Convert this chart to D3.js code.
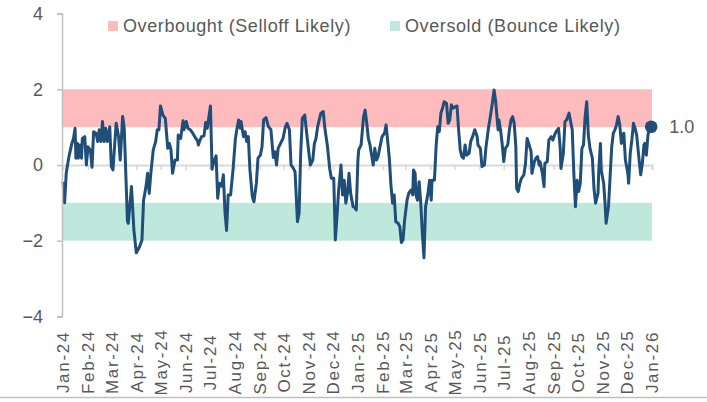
<!DOCTYPE html>
<html>
<head>
<meta charset="utf-8">
<title>Overbought / Oversold score</title>
<script src="https://d3js.org/d3.v7.min.js"></script>
<style>
    body { margin: 0; background: #fff; }
    text { font-family: "Liberation Sans", Arial, sans-serif; fill: #595959; }
</style>
</head>
<body>
<svg id="chart" width="707" height="402"></svg>
<script>
var dates = [
    "2024-01-01","2024-01-03","2024-01-05","2024-01-08","2024-01-12","2024-01-14","2024-01-16","2024-01-17","2024-01-19","2024-01-20",
    "2024-01-22","2024-01-24","2024-01-25","2024-01-28","2024-01-30","2024-02-01","2024-02-04","2024-02-06","2024-02-08","2024-02-11",
    "2024-02-13","2024-02-15","2024-02-17","2024-02-19","2024-02-21","2024-02-23","2024-02-25","2024-02-28","2024-03-01","2024-03-03",
    "2024-03-07","2024-03-10","2024-03-12","2024-03-15","2024-03-17","2024-03-21","2024-03-22","2024-03-26","2024-03-29","2024-04-01",
    "2024-04-05","2024-04-08","2024-04-10","2024-04-13","2024-04-15","2024-04-17","2024-04-19","2024-04-22","2024-04-25","2024-04-27",
    "2024-04-29","2024-05-01","2024-05-04","2024-05-07","2024-05-10","2024-05-12","2024-05-14","2024-05-16","2024-05-19","2024-05-22",
    "2024-05-23","2024-05-26","2024-05-29","2024-05-30","2024-06-02","2024-06-04","2024-06-07","2024-06-10","2024-06-13","2024-06-16",
    "2024-06-17","2024-06-19","2024-06-21","2024-06-24","2024-06-26","2024-06-28","2024-07-01","2024-07-02","2024-07-04","2024-07-06",
    "2024-07-09","2024-07-11","2024-07-13","2024-07-16","2024-07-18","2024-07-20","2024-07-22","2024-07-24","2024-07-27","2024-07-30",
    "2024-08-02","2024-08-04","2024-08-06","2024-08-08","2024-08-09","2024-08-12","2024-08-14","2024-08-16","2024-08-18","2024-08-20",
    "2024-08-23","2024-08-25","2024-08-28","2024-08-30","2024-09-02","2024-09-04","2024-09-06","2024-09-09","2024-09-12","2024-09-15",
    "2024-09-18","2024-09-20","2024-09-22","2024-09-24","2024-09-27","2024-09-30","2024-10-03","2024-10-05","2024-10-08","2024-10-10",
    "2024-10-13","2024-10-15","2024-10-18","2024-10-20","2024-10-22","2024-10-24","2024-10-27","2024-10-29","2024-11-01","2024-11-03",
    "2024-11-06","2024-11-08","2024-11-10","2024-11-12","2024-11-13","2024-11-16","2024-11-19","2024-11-21","2024-11-24","2024-11-27",
    "2024-11-29","2024-12-02","2024-12-04","2024-12-06","2024-12-08","2024-12-11","2024-12-13","2024-12-15","2024-12-17","2024-12-19",
    "2024-12-21","2024-12-23","2024-12-26","2024-12-28","2024-12-30",
    "2025-01-01","2025-01-02","2025-01-05","2025-01-08","2025-01-10","2025-01-12","2025-01-14","2025-01-16","2025-01-18","2025-01-20",
    "2025-01-22","2025-01-24","2025-01-26","2025-01-28","2025-01-31","2025-02-03","2025-02-05","2025-02-07","2025-02-09","2025-02-11",
    "2025-02-13","2025-02-15","2025-02-17","2025-02-20","2025-02-22","2025-02-24","2025-02-26","2025-02-28","2025-03-03","2025-03-05",
    "2025-03-08","2025-03-10","2025-03-11","2025-03-13","2025-03-14","2025-03-16","2025-03-18","2025-03-20","2025-03-22","2025-03-24",
    "2025-03-26","2025-03-29","2025-03-31","2025-04-02","2025-04-03","2025-04-06","2025-04-08","2025-04-10","2025-04-12","2025-04-14",
    "2025-04-16","2025-04-18","2025-04-21","2025-04-23","2025-04-25","2025-04-27","2025-04-29","2025-05-02","2025-05-04","2025-05-06",
    "2025-05-08","2025-05-10","2025-05-12","2025-05-14","2025-05-16","2025-05-19","2025-05-21","2025-05-24","2025-05-26","2025-05-29",
    "2025-05-30","2025-06-02","2025-06-04","2025-06-07","2025-06-09","2025-06-12","2025-06-14","2025-06-17","2025-06-19","2025-06-21",
    "2025-06-24","2025-06-25","2025-06-27","2025-06-29","2025-07-01","2025-07-03","2025-07-06","2025-07-08","2025-07-10","2025-07-12",
    "2025-07-14","2025-07-16","2025-07-17","2025-07-19","2025-07-21","2025-07-23","2025-07-26","2025-07-28","2025-07-30","2025-08-01",
    "2025-08-04","2025-08-05","2025-08-08","2025-08-10","2025-08-12","2025-08-14","2025-08-15","2025-08-18","2025-08-20","2025-08-21",
    "2025-08-24","2025-08-26","2025-08-29","2025-08-31","2025-09-02","2025-09-04","2025-09-07","2025-09-09","2025-09-10","2025-09-13",
    "2025-09-15","2025-09-17","2025-09-20","2025-09-22","2025-09-24","2025-09-26","2025-09-28","2025-09-30","2025-10-02","2025-10-04",
    "2025-10-06","2025-10-08","2025-10-10","2025-10-12","2025-10-14","2025-10-16","2025-10-19","2025-10-21","2025-10-23","2025-10-26",
    "2025-10-27","2025-10-29","2025-10-30","2025-11-02","2025-11-04","2025-11-05","2025-11-08","2025-11-10","2025-11-12","2025-11-14",
    "2025-11-16","2025-11-18","2025-11-20","2025-11-22","2025-11-24","2025-11-27","2025-11-29","2025-12-02","2025-12-03","2025-12-05",
    "2025-12-07","2025-12-09","2025-12-11","2025-12-13","2025-12-16","2025-12-18","2025-12-20","2025-12-22","2025-12-23","2025-12-25",
    "2025-12-27","2025-12-29","2025-12-31"
];
var scores = [
    -0.44,-1.00,-0.22,0.18,0.57,0.70,0.97,0.18,0.57,0.18,
    0.53,0.18,0.70,0.75,0.00,0.48,0.40,-0.06,0.88,0.84,
    0.62,0.93,0.62,1.15,0.62,0.97,0.62,1.01,-0.04,-0.13,
    1.10,0.75,0.13,1.28,0.97,-1.49,-1.54,-0.57,-1.72,-2.32,
    -2.16,-1.98,-0.93,-0.57,-0.22,-0.75,-0.22,0.40,0.62,0.93,
    0.93,1.56,1.32,1.23,0.44,0.57,0.40,-0.22,0.13,0.13,
    0.79,0.70,1.17,0.93,1.15,0.97,0.93,0.84,0.73,0.64,
    0.53,0.66,0.75,0.77,1.12,0.97,1.41,1.56,-0.11,0.09,
    0.24,-0.88,-0.48,-0.56,-0.26,-1.23,-1.73,-0.79,-0.79,-0.13,
    0.70,0.97,1.19,0.97,1.15,0.75,0.88,0.62,0.75,-0.13,
    -0.84,-0.97,-0.48,0.18,0.26,0.48,1.19,1.25,1.01,0.94,
    0.20,0.35,0.00,0.44,0.57,0.70,1.01,1.10,0.93,0.00,
    -0.09,-0.18,-1.50,-1.28,0.31,1.23,1.32,0.93,0.35,0.00,
    0.13,0.57,0.70,1.01,1.10,1.37,1.41,0.97,0.53,-0.09,
    -0.35,-0.35,-1.98,-1.37,-0.70,0.00,-0.79,-0.40,-1.01,-0.75,
    -0.22,-0.75,-1.10,-1.12,-1.19,
    0.13,0.40,0.53,1.28,1.45,1.10,0.70,0.53,0.26,0.00,
    0.44,0.13,0.22,0.44,0.75,0.84,1.06,0.62,0.18,-0.53,
    -1.01,-0.79,-1.50,-1.54,-1.63,-2.05,-1.98,-1.45,-0.93,-0.75,
    -0.66,-0.79,-0.13,-0.22,-0.79,-0.93,-0.44,-1.01,-1.81,-2.45,
    -1.10,-0.75,-0.40,-0.93,-0.40,-0.40,0.48,1.01,0.88,1.37,
    1.50,1.67,1.63,1.10,1.19,1.59,1.50,1.54,1.56,0.93,
    0.40,0.22,0.18,0.53,0.26,0.31,0.62,0.79,0.93,0.75,
    0.53,0.44,-0.04,0.00,0.48,0.97,1.23,1.65,1.98,1.67,
    0.93,1.19,0.93,0.57,0.09,0.44,0.53,0.93,1.19,1.28,
    1.10,0.48,-0.62,-0.70,-0.48,-0.35,-0.26,0.04,0.70,0.57,
    0.35,-0.22,0.09,0.18,0.22,0.00,0.09,-0.22,-0.57,0.04,
    0.09,0.66,0.75,0.66,0.79,0.88,0.97,0.48,-0.09,0.31,
    1.15,1.19,1.37,1.15,0.93,-0.22,-1.10,-0.40,-0.70,-0.48,
    0.44,0.53,1.28,1.67,0.79,0.44,0.18,-0.62,-1.01,-0.75,
    -0.13,0.57,-0.13,-0.48,-1.10,-1.54,-1.10,-0.31,0.48,0.84,
    0.93,1.06,1.28,1.06,0.57,0.84,0.13,-0.22,-0.48,0.31,
    0.66,1.10,0.97,0.79,0.13,-0.26,0.04,0.53,0.57,0.26,
    0.79,0.97,1.01
];
var yTicks = [-4, -2, 0, 2, 4];
var bandNames = ["Overbought (Selloff Likely)", "Oversold (Bounce Likely)"];
var bandLow = [1, -2];
var bandHigh = [2, -1];
var bandColors = ["#fdbbbe", "#bee8dc"];

var svg = d3.select("#chart");
var parse = d3.timeParse("%Y-%m-%d");
var series = dates.map(function (d, i) { return { date: parse(d), v: scores[i] }; });

var x = d3.scaleTime().domain([new Date(2024, 0, 1), new Date(2026, 0, 1)]).range([63, 652]);
var y = d3.scaleLinear().domain([-4, 4]).range([316.4, 13.6]);
var months = d3.timeMonth.range(new Date(2024, 0, 1), new Date(2026, 0, 2));

// shaded zones
svg.selectAll("rect.band")
    .data(bandNames)
    .enter().append("rect")
    .attr("class", "band")
    .attr("x", 62)
    .attr("width", x.range()[1] - 62)
    .attr("y", function (d, i) { return y(bandHigh[i]); })
    .attr("height", function (d, i) { return y(bandLow[i]) - y(bandHigh[i]); })
    .attr("fill", function (d, i) { return bandColors[i]; });

// zero line with month ticks
var zero = svg.append("g")
    .attr("transform", "translate(0," + y(0) + ")")
    .call(d3.axisBottom(x).tickValues(months).tickSize(5).tickSizeOuter(5).tickFormat(""));
zero.select(".domain").attr("stroke", "#d9d9d9").attr("stroke-width", 2);
zero.selectAll(".tick line").attr("stroke", "#d9d9d9").attr("stroke-width", 1.5);

// month labels
var xl = svg.append("g")
    .attr("transform", "translate(0,362)")
    .call(d3.axisBottom(x).tickValues(months).tickSize(0).tickFormat(d3.timeFormat("%b-%y")));
xl.select(".domain").remove();
xl.selectAll("text")
    .attr("y", 0).attr("dy", "0.35em")
    .attr("transform", "rotate(-90)")
    .attr("text-anchor", "middle")
    .style("font-size", "17px")
    .style("letter-spacing", "1.7px")
    .style("font-family", "'Liberation Sans', Arial, sans-serif")
    .attr("fill", "#595959");

// score line
var line = d3.line().x(function (d) { return x(d.date); }).y(function (d) { return y(d.v); });
svg.append("path")
    .datum(series)
    .attr("d", line)
    .attr("fill", "none")
    .attr("stroke", "#1f4e79")
    .attr("stroke-width", 3)
    .attr("stroke-linejoin", "round");

var last = series[series.length - 1];
svg.append("circle")
    .attr("cx", x(last.date)).attr("cy", y(last.v)).attr("r", 6.3)
    .attr("fill", "#1f4e79");
svg.append("text")
    .attr("x", x(last.date) + 18).attr("y", y(last.v))
    .attr("dy", "0.35em")
    .style("font-size", "18px")
    .text(d3.format(".1f")(last.v));

// y axis
var ya = svg.append("g")
    .attr("transform", "translate(62,0)")
    .call(d3.axisLeft(y).tickValues(yTicks).tickSize(5).tickSizeOuter(5).tickPadding(14));
ya.select(".domain").attr("stroke", "#bfbfbf").attr("stroke-width", 1.5);
ya.selectAll(".tick line").attr("stroke", "#bfbfbf").attr("stroke-width", 1.5);
ya.selectAll("text")
    .style("font-size", "18px")
    .style("font-family", "'Liberation Sans', Arial, sans-serif")
    .attr("fill", "#595959");

// legend
var legX = [108, 390];
var leg = svg.selectAll("g.leg")
    .data(bandNames)
    .enter().append("g")
    .attr("class", "leg")
    .attr("transform", function (d, i) { return "translate(" + legX[i] + ",21)"; });
leg.append("rect").attr("width", 10).attr("height", 10)
    .attr("fill", function (d, i) { return bandColors[i]; });
leg.append("text").attr("x", 15).attr("y", 5).attr("dy", "0.35em")
    .style("font-size", "18px")
    .style("letter-spacing", "0.6px")
    .text(function (d) { return d; });

// bottom rule
svg.append("line")
    .attr("x1", 0).attr("x2", 707).attr("y1", 397.5).attr("y2", 397.5)
    .attr("stroke", "#bfbfbf").attr("stroke-width", 1.5);
</script>
</body>
</html>
